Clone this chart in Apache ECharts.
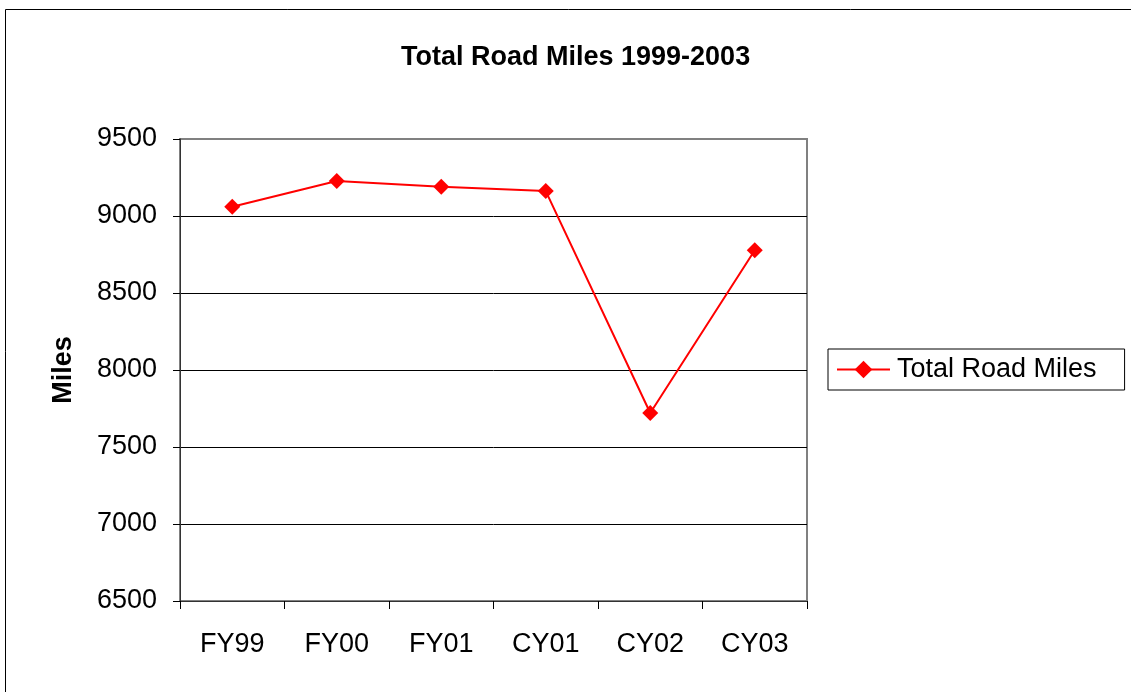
<!DOCTYPE html>
<html>
<head>
<meta charset="utf-8">
<script src="https://cdn.jsdelivr.net/npm/echarts@6/dist/echarts.min.js"></script>
<style>html,body{margin:0;padding:0;background:#fff;}#c{width:1131px;height:692px;}</style>
</head>
<body>
<div id="c"></div>
<script>
const titleText = 'Total Road Miles 1999-2003';
const seriesName = 'Total Road Miles';
const yAxisName = 'Miles';
const categories = ['FY99', 'FY00', 'FY01', 'CY01', 'CY02', 'CY03'];
const roadMiles = [9060, 9227, 9190, 9162, 7721, 8778];
const yMin = 6500, yMax = 9500, yStep = 500;

const FONT = '"Liberation Sans", Arial, sans-serif';
const chart = echarts.init(document.getElementById('c'), null, {renderer: 'canvas'});
chart.setOption({
  backgroundColor: '#fff',
  animation: false,
  graphic: [{
    type: 'rect', left: 3, top: 7, z: -1,
    shape: {x: 0, y: 0, width: 1200, height: 800},
    style: {fill: 'none', stroke: '#000', lineWidth: 1}
  }],
  title: {
    text: titleText, left: 401, top: 44, padding: 0,
    textStyle: {fontFamily: FONT, fontSize: 27, fontWeight: 'bold', color: '#000'}
  },
  legend: {
    left: 828, top: 349, orient: 'vertical',
    padding: [7, 28, 7, 8],
    borderColor: '#000', borderWidth: 1, backgroundColor: '#fff',
    itemWidth: 53, itemHeight: 22, itemGap: 0,
    textStyle: {fontFamily: FONT, fontSize: 27, color: '#000', padding: [0, 0, 0, 2]},
    data: [seriesName]
  },
  grid: {
    left: 180, top: 139, width: 627, height: 462,
    show: true, borderColor: '#808080', borderWidth: 2, backgroundColor: '#fff'
  },
  xAxis: {
    type: 'category', data: categories, boundaryGap: true,
    axisLine: {lineStyle: {color: '#333', width: 1}},
    axisTick: {show: true, length: 8, lineStyle: {color: '#000'}},
    axisLabel: {fontFamily: FONT, fontSize: 27, color: '#000', margin: 30},
    splitLine: {show: false}
  },
  yAxis: {
    type: 'value', min: yMin, max: yMax, interval: yStep,
    name: yAxisName, nameLocation: 'middle', nameGap: 103, nameRotate: 90,
    nameTextStyle: {fontFamily: FONT, fontSize: 27, fontWeight: 'bold', color: '#000'},
    axisLine: {show: true, lineStyle: {color: '#333', width: 1}},
    axisTick: {show: true, length: 7, lineStyle: {color: '#000'}},
    axisLabel: {fontFamily: FONT, fontSize: 27, color: '#000', margin: 23,
      formatter: function (v) { return String(v); }},
    splitLine: {show: true, showMinLine: false, showMaxLine: false, lineStyle: {color: '#000', width: 1}}
  },
  series: [{
    name: seriesName, type: 'line', data: roadMiles,
    symbol: 'diamond', symbolSize: 16,
    lineStyle: {color: '#ff0000', width: 2},
    itemStyle: {color: '#ff0000'}
  }]
});
</script>
</body>
</html>
